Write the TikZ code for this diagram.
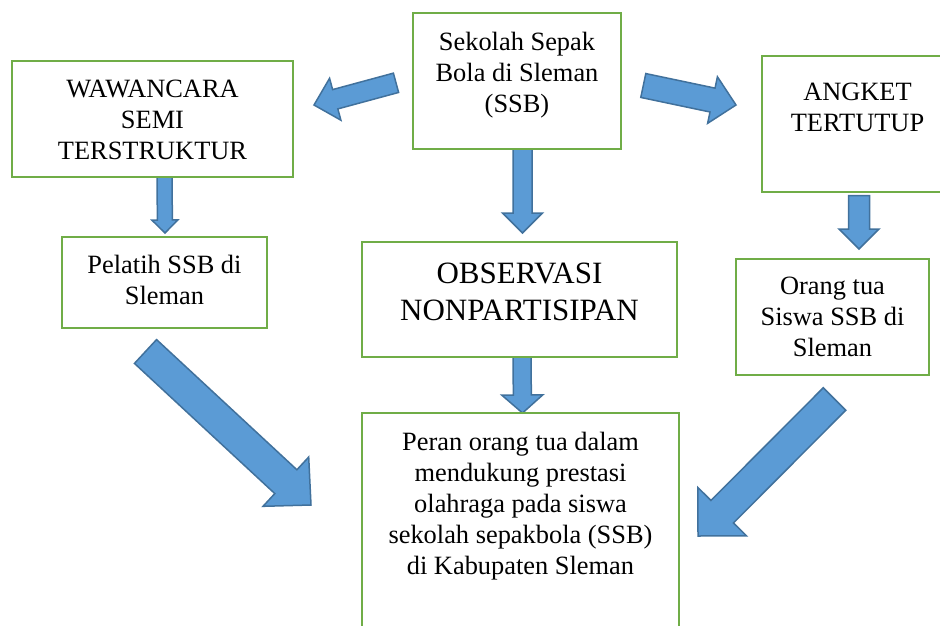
\documentclass[tikz,border=0pt]{standalone}
\usepackage{fontspec}
\setmainfont{Liberation Serif}
\usetikzlibrary{calc, positioning}
\usepackage{xcolor}
\definecolor{hijau}{RGB}{112,173,71}
\definecolor{birumuda}{RGB}{91,155,213}
\definecolor{birutua}{RGB}{65,113,156}
\tikzset{kotak/.style={draw=hijau, line width=2.7pt, inner sep=0pt, outer sep=0pt},teks/.style={align=center, inner sep=0pt, font=\fontsize{26.4}{31}\selectfont}}
\tikzset{panah/.style={fill=birumuda, draw=birutua, line width=1.5pt, line join=miter}}
% block arrow: tail, tip, half shaft width, half head width, head length
\newcommand{\panahblok}[5]{%
  \coordinate (#1-leher) at ($(#2)!#5!(#1)$);
  \draw[panah] ($(#1)!#3!90:(#2)$) -- ($(#1-leher)!#3!-90:(#1)$) -- ($(#1-leher)!#4!-90:(#1)$) -- (#2) -- ($(#1-leher)!#4!90:(#1)$) -- ($(#1-leher)!#3!90:(#1)$) -- ($(#1)!#3!-90:(#2)$) -- cycle;
}

\begin{document}
\begin{tikzpicture}[x=1pt, y=-1pt]
        \useasboundingbox (0,0) rectangle (940,626);
        \clip (0,0) rectangle (940,626);
        % Arrow ends
        \coordinate (pangkal1) at (522.5,149);  \coordinate (ujung1) at (522.5,233);
        \coordinate (pangkal2) at (164.5,177);  \coordinate (ujung2) at (165,233);
        \coordinate (pangkal3) at (859,195.5);  \coordinate (ujung3) at (859,249);
        \coordinate (pangkal4) at (522,357);    \coordinate (ujung4) at (522.5,413);
        \coordinate (pangkal5) at (396,82.8);   \coordinate (ujung5) at (314,105);
        \coordinate (pangkal6) at (643.3,85.5); \coordinate (ujung6) at (736,105);
        \coordinate (pangkal7) at (145.5,351.5); \coordinate (ujung7) at (311,505);
        \coordinate (pangkal8) at (834.5,399);  \coordinate (ujung8) at (698,536);
        % Arrows
        \panahblok{pangkal1}{ujung1}{9.5pt}{20pt}{20pt}
        \panahblok{pangkal2}{ujung2}{7.5pt}{13pt}{13pt}
        \panahblok{pangkal3}{ujung3}{10.5pt}{20pt}{20pt}
        \panahblok{pangkal4}{ujung4}{9pt}{20.5pt}{18pt}
        \panahblok{pangkal5}{ujung5}{10pt}{21.7pt}{22pt}
        \panahblok{pangkal6}{ujung6}{12.2pt}{23.8pt}{24pt}
        \panahblok{pangkal7}{ujung7}{16.25pt}{33.6pt}{34.3pt}
        \panahblok{pangkal8}{ujung8}{15.9pt}{34.3pt}{34.3pt}
        % Boxes
        \node[kotak, minimum width=208pt, minimum height=136pt] (ssb) at (517,81) {};
        \node[kotak, minimum width=281pt, minimum height=116pt] (wawancara) at (152.5,119) {};
        \node[kotak, minimum width=191pt, minimum height=136pt] (angket) at (857.5,124) {};
        \node[kotak, minimum width=205pt, minimum height=91pt] (pelatih) at (164.5,282.5) {};
        \node[kotak, minimum width=315pt, minimum height=115pt] (observasi) at (519.5,299.5) {};
        \node[kotak, minimum width=193pt, minimum height=116pt] (orangtua) at (832.5,317) {};
        \node[kotak, minimum width=317pt, minimum height=234pt] (peran) at (520.5,530) {};
        % Texts
        \node[teks, below=19pt of ssb.north] (ssb-teks) {Sekolah Sepak\\Bola di Sleman\\(SSB)};
        \node[teks, below=18.5pt of wawancara.north] (wawancara-teks) {WAWANCARA\\SEMI\\TERSTRUKTUR};
        \node[teks, below=26.5pt of angket.north] (angket-teks) {ANGKET\\TERTUTUP};
        \node[teks, below=18pt of pelatih.north] (pelatih-teks) {Pelatih SSB di\\Sleman};
        \node[teks, font=\fontsize{31}{37}\selectfont, below=20.5pt of observasi.north] (observasi-teks) {OBSERVASI\\NONPARTISIPAN};
        \node[teks, below=18pt of orangtua.north] (orangtua-teks) {Orang tua\\Siswa SSB di\\Sleman};
        \node[teks, below=19pt of peran.north] (peran-teks) {Peran orang tua dalam\\mendukung prestasi\\olahraga pada siswa\\sekolah sepakbola (SSB)\\di Kabupaten Sleman};
\end{tikzpicture}
\end{document}
